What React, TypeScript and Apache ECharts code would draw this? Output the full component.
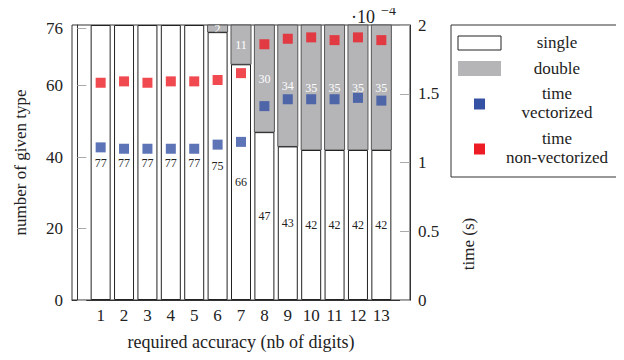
import React, { useEffect, useRef } from "react";
import * as echarts from "echarts";

// x categories: required accuracy (number of digits)
const digits = [1, 2, 3, 4, 5, 6, 7, 8, 9, 10, 11, 12, 13];
// number of functions computed in single / double precision
const singleCount = [77, 77, 77, 77, 77, 75, 66, 47, 43, 42, 42, 42, 42];
const doubleCount = [0, 0, 0, 0, 0, 2, 11, 30, 34, 35, 35, 35, 35];
// timings in units of 1e-4 s
const timeVectorized = [1.11, 1.1, 1.1, 1.1, 1.1, 1.13, 1.15, 1.41, 1.46, 1.46, 1.46, 1.47, 1.45];
const timeNonVectorized = [1.58, 1.59, 1.58, 1.59, 1.59, 1.6, 1.65, 1.86, 1.9, 1.91, 1.89, 1.91, 1.89];
// axis tick labels
const leftTicks = [0, 20, 40, 60, 76];

const FONT = "Liberation Serif";
const GRAY = "#b5b5b8";
const RED = "#ed1c24";
const BLUE = "#3451a4";
const TXT = "#222";
const TICK_FS = 17;
const TITLE_FS = 17;
const LEG_FS = 17;
const BAR_FS = 12;

export default function App() {
  const ref = useRef<HTMLDivElement>(null);
  useEffect(() => {
    if (!ref.current) return;
    const chart = echarts.init(ref.current, undefined, { renderer: "svg" });
    const singleData = digits.map((d, i) => [d, singleCount[i]]);
    const doubleData = digits.map((d, i) => [d, singleCount[i], singleCount[i] + doubleCount[i], doubleCount[i]]);
    const txt = (text: string, x: number, y: number) => ({
      type: "text",
      x,
      y,
      style: { text, fontSize: LEG_FS, fontFamily: FONT, fill: TXT, align: "center", verticalAlign: "middle" },
    });
    const option: any = {
      animation: false,
      textStyle: { fontFamily: FONT },
      grid: {
        left: 72,
        top: 25,
        width: 338,
        height: 275,
        show: true,
        borderColor: "#333",
        borderWidth: 1,
        backgroundColor: "transparent",
      },
      xAxis: {
        type: "value",
        min: -0.225,
        max: 14.225,
        name: "required accuracy (nb of digits)",
        nameLocation: "middle",
        nameGap: 33,
        nameTextStyle: { fontSize: 18, color: TXT, fontFamily: FONT },
        axisLine: { show: true, lineStyle: { color: "#333" } },
        axisTick: { show: false },
        splitLine: { show: false },
        axisLabel: {
          customValues: digits,
          formatter: (v: number) => String(v),
          fontSize: TICK_FS,
          color: TXT,
          fontFamily: FONT,
          margin: 7,
        },
      },
      yAxis: [
        {
          type: "value",
          min: 0,
          max: 77,
          position: "left",
          name: "number of given type",
          nameLocation: "middle",
          nameGap: 43,
          nameTextStyle: { fontSize: TITLE_FS, color: TXT, fontFamily: FONT },
          axisLine: { show: true, lineStyle: { color: "#333" } },
          axisTick: { show: true, inside: true, length: 9, customValues: leftTicks, lineStyle: { color: "#aaa" } },
          axisLabel: { customValues: leftTicks, fontSize: TICK_FS, color: TXT, fontFamily: FONT, margin: 9 },
          splitLine: { show: false },
        },
        {
          type: "value",
          min: 0,
          max: 2,
          interval: 0.5,
          position: "right",
          axisLine: { show: true, lineStyle: { color: "#333" } },
          axisTick: { show: true, inside: true, length: 10, lineStyle: { color: "#aaa" } },
          axisLabel: { fontSize: TICK_FS, color: TXT, fontFamily: FONT, margin: 8 },
          splitLine: { show: false },
        },
      ],
      series: [
        {
          name: "single",
          type: "bar",
          data: singleData,
          barWidth: 20,
          itemStyle: { color: "#fff", borderColor: "#222", borderWidth: 1 },
          label: {
            show: true,
            position: "inside",
            formatter: (p: any) => String(p.value[1]),
            fontSize: BAR_FS,
            color: TXT,
            fontFamily: FONT,
          },
          z: 2,
        },
        {
          name: "double",
          type: "custom",
          data: doubleData,
          encode: { x: 0, y: [1, 2] },
          z: 2,
          renderItem: (params: any, api: any) => {
            const x = api.value(0);
            const lo = api.value(1);
            const hi = api.value(2);
            const n = api.value(3);
            if (!(n > 0)) return { type: "group", children: [] };
            const a = api.coord([x, lo]);
            const b = api.coord([x, hi]);
            const w = 20;
            return {
              type: "group",
              children: [
                {
                  type: "rect",
                  shape: { x: a[0] - w / 2, y: b[1], width: w, height: a[1] - b[1] },
                  style: { fill: GRAY, stroke: "#555", lineWidth: 1 },
                },
                {
                  type: "text",
                  x: a[0],
                  y: (a[1] + b[1]) / 2,
                  style: {
                    text: String(n),
                    fill: "#fff",
                    fontSize: BAR_FS,
                    fontFamily: FONT,
                    align: "center",
                    verticalAlign: "middle",
                  },
                },
              ],
            };
          },
        },
        {
          name: "time vectorized",
          type: "scatter",
          yAxisIndex: 1,
          symbol: "rect",
          symbolSize: 10,
          itemStyle: { color: BLUE },
          data: digits.map((d, i) => [d, timeVectorized[i]]),
          z: 5,
        },
        {
          name: "time non-vectorized",
          type: "scatter",
          yAxisIndex: 1,
          symbol: "rect",
          symbolSize: 10,
          itemStyle: { color: RED },
          data: digits.map((d, i) => [d, timeNonVectorized[i]]),
          z: 5,
        },
      ],
      graphic: [
        {
          type: "text",
          x: 468,
          y: 244,
          rotation: Math.PI / 2,
          style: { text: "time (s)", fontSize: TITLE_FS, fontFamily: FONT, fill: TXT, align: "center", verticalAlign: "middle" },
        },
        {
          type: "text",
          x: 351,
          y: 17,
          z: 10,
          style: { text: "·10", fontSize: 18, fontFamily: FONT, fill: TXT, align: "left", verticalAlign: "middle" },
        },
        {
          type: "text",
          x: 381,
          y: 10,
          z: 10,
          style: { text: "−4", fontSize: 14, fontFamily: FONT, fill: TXT, align: "left", verticalAlign: "middle" },
        },
        {
          type: "group",
          children: [
            { type: "rect", shape: { x: 451, y: 25, width: 170, height: 152 }, style: { fill: "#fff", stroke: "#333", lineWidth: 1 } },
            { type: "rect", shape: { x: 458, y: 36, width: 43, height: 14 }, style: { fill: "#fff", stroke: "#222", lineWidth: 1 } },
            { type: "rect", shape: { x: 458, y: 61, width: 43, height: 15 }, style: { fill: GRAY } },
            { type: "rect", shape: { x: 474, y: 98.5, width: 11, height: 11 }, style: { fill: BLUE } },
            { type: "rect", shape: { x: 474, y: 143.5, width: 11, height: 11 }, style: { fill: RED } },
            txt("single", 557, 42),
            txt("double", 557, 68),
            txt("time", 557, 93),
            txt("vectorized", 557, 112),
            txt("time", 557, 138),
            txt("non-vectorized", 557, 157),
          ],
        },
      ],
    };
    chart.setOption(option);
    return () => chart.dispose();
  }, []);
  return <div ref={ref} style={{ width: 624, height: 360, margin: -8 }} />;
}
